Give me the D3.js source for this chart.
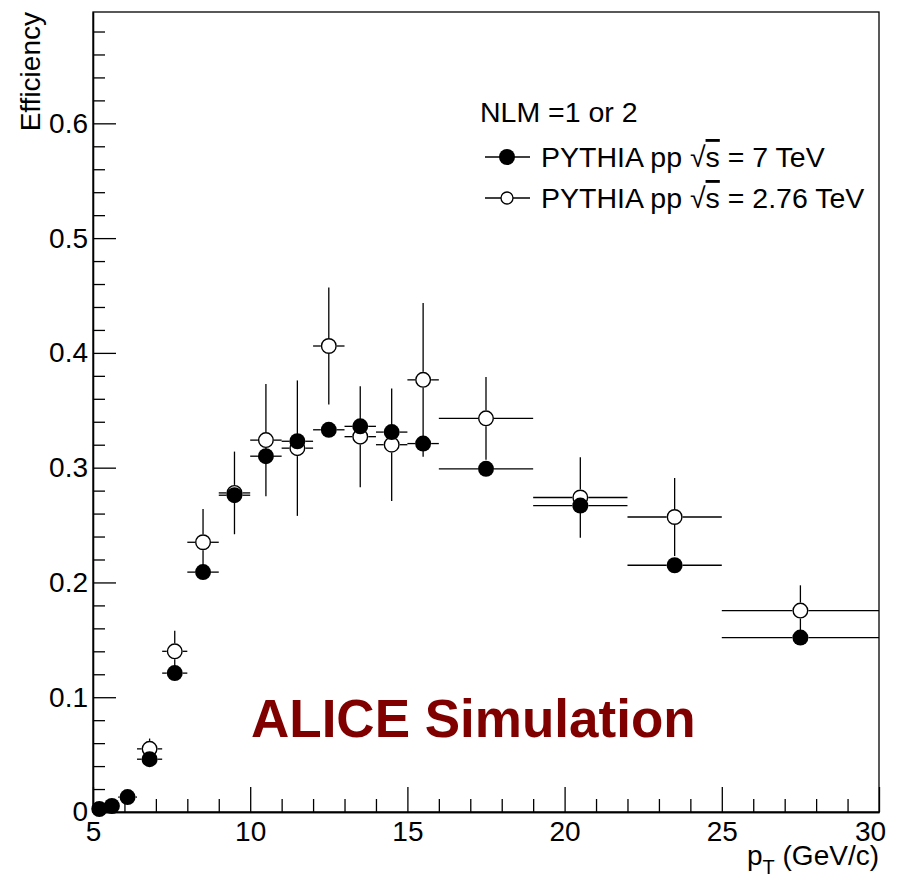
<!DOCTYPE html>
<html>
<head>
<meta charset="utf-8">
<script src="https://cdn.jsdelivr.net/npm/d3@7/dist/d3.min.js"></script>
<style>
  html, body { margin: 0; padding: 0; background: #fff; }
  svg { display: block; font-family: "Liberation Sans", Arial, Helvetica, sans-serif; }
</style>
</head>
<body>
<svg id="chart" width="898" height="881"></svg>
<script>
// pT bins: centres and half-widths (GeV/c)
const ptCentre7   = [5.2, 5.6, 6.1, 6.8, 7.6, 8.5, 9.5, 10.5, 11.5, 12.5, 13.5, 14.5, 15.5, 17.5, 20.5, 23.5, 27.5];
const ptHalf7     = [0.2, 0.2, 0.3, 0.4, 0.4, 0.5, 0.5, 0.5, 0.5, 0.5, 0.5, 0.5, 0.5, 1.5, 1.5, 1.5, 2.5];
const eff7        = [0.0026, 0.0052, 0.013, 0.046, 0.121, 0.209, 0.276, 0.310, 0.323, 0.333, 0.336, 0.331, 0.321, 0.299, 0.267, 0.215, 0.152];
const effErr7     = [0.001, 0.001, 0.002, 0.003, 0.004, 0.005, 0.005, 0.006, 0.006, 0.006, 0.006, 0.006, 0.006, 0.006, 0.006, 0.006, 0.005];

const ptCentre276 = [6.8, 7.6, 8.5, 9.5, 10.5, 11.5, 12.5, 13.5, 14.5, 15.5, 17.5, 20.5, 23.5, 27.5];
const ptHalf276   = [0.4, 0.4, 0.5, 0.5, 0.5, 0.5, 0.5, 0.5, 0.5, 0.5, 1.5, 1.5, 1.5, 2.5];
const eff276      = [0.055, 0.140, 0.235, 0.278, 0.324, 0.317, 0.406, 0.327, 0.320, 0.3765, 0.343, 0.274, 0.257, 0.1755];
const effErr276   = [0.009, 0.018, 0.029, 0.036, 0.049, 0.059, 0.051, 0.044, 0.049, 0.067, 0.036, 0.035, 0.034, 0.022];

const xMajorTicks = [5, 10, 15, 20, 25, 30];
const yMajorTicks = [0, 0.1, 0.2, 0.3, 0.4, 0.5, 0.6];

const legendTitle = "NLM =1 or 2";
const legendEnergies = ["7", "2.76"];

const svg = d3.select("#chart");
const padL = 93, padR = 879, padT = 12, padB = 812;

const x = d3.scaleLinear().domain([5, 30]).range([padL, padR]);
const y = d3.scaleLinear().domain([0, 0.697]).range([padB, padT]);

const ink = "#000";
const fontSize = 28;

// frame
svg.append("rect")
  .attr("x", padL).attr("y", padT)
  .attr("width", padR - padL).attr("height", padB - padT)
  .attr("fill", "none").attr("stroke", ink).attr("stroke-width", 1.3);

// x axis: major + minor ticks pointing into the frame
const xMinor = d3.range(5, 30.001, 1).filter(v => v % 5 !== 0);
const xAxis = svg.append("g").attr("transform", `translate(0,${padB})`)
  .call(d3.axisBottom(x).tickValues(xMajorTicks).tickSizeInner(-25).tickSizeOuter(0)
        .tickPadding(9).tickFormat(d3.format("d")));
xAxis.append("g").call(d3.axisBottom(x).tickValues(xMinor).tickSizeInner(-13).tickSizeOuter(0).tickFormat(""));
xAxis.selectAll(".domain").attr("stroke", ink).attr("stroke-width", 1.3);
xAxis.selectAll(".tick line").attr("stroke", ink).attr("stroke-width", 1.3);
xAxis.selectAll(".tick text").attr("font-size", fontSize).attr("fill", ink)
  .attr("font-family", "Liberation Sans, Arial, sans-serif")
  .attr("dx", d => d === 30 ? -9 : 0);

// y axis
const yMinor = d3.range(0, 0.69, 0.02).filter(v => Math.abs(v * 10 - Math.round(v * 10)) > 1e-6);
const yAxis = svg.append("g").attr("transform", `translate(${padL},0)`)
  .call(d3.axisLeft(y).tickValues(yMajorTicks).tickSizeInner(-23).tickSizeOuter(0)
        .tickPadding(5).tickFormat(d => d === 0 ? "0" : d3.format(".1f")(d)));
yAxis.append("g").call(d3.axisLeft(y).tickValues(yMinor).tickSizeInner(-12).tickSizeOuter(0).tickFormat(""));
yAxis.selectAll(".domain").attr("stroke", ink).attr("stroke-width", 1.3);
yAxis.selectAll(".tick line").attr("stroke", ink).attr("stroke-width", 1.3);
yAxis.selectAll(".tick text").attr("font-size", fontSize).attr("fill", ink)
  .attr("font-family", "Liberation Sans, Arial, sans-serif");

// axis titles
svg.append("text")
  .attr("transform", `translate(40,${padT}) rotate(-90)`)
  .attr("text-anchor", "end").attr("font-size", fontSize).attr("fill", ink)
  .text("Efficiency");

const xt = svg.append("text")
  .attr("x", padR).attr("y", 865)
  .attr("text-anchor", "end").attr("font-size", fontSize).attr("fill", ink);
xt.append("tspan").text("p");
xt.append("tspan").attr("font-size", 20).attr("dy", 9).text("T");
xt.append("tspan").attr("dy", -9).text(" (GeV/c)");

// data points with error bars that stop at the marker edge
const r = 8;
function drawSeries(centres, halves, vals, errs, filled) {
  const g = svg.append("g");
  const pts = centres.map((c, i) => ({ c, h: halves[i], v: vals[i], e: errs[i] }));
  pts.forEach(p => {
    const cx = x(p.c), cy = y(p.v);
    const segs = [
      [x(p.c - p.h), cy, cx - r, cy],
      [cx + r, cy, x(p.c + p.h), cy],
      [cx, y(p.v + p.e), cx, cy - r],
      [cx, cy + r, cx, y(p.v - p.e)]
    ];
    segs.forEach(s => {
      const fwd = (s[2] - s[0]) + (s[3] - s[1]);
      if (fwd > 0.5) {
        g.append("line")
          .attr("x1", s[0]).attr("y1", s[1]).attr("x2", s[2]).attr("y2", s[3])
          .attr("stroke", ink).attr("stroke-width", 1.3);
      }
    });
  });
  g.selectAll("circle").data(pts).join("circle")
    .attr("cx", d => x(d.c)).attr("cy", d => y(d.v))
    .attr("r", filled ? r : r - 0.7)
    .attr("fill", filled ? ink : "#fff")
    .attr("stroke", ink).attr("stroke-width", filled ? 0 : 1.4);
}
drawSeries(ptCentre276, ptHalf276, eff276, effErr276, false);
drawSeries(ptCentre7, ptHalf7, eff7, effErr7, true);

// legend
const legFont = 28.5;
svg.append("text").attr("x", 480).attr("y", 122)
  .attr("font-size", legFont).attr("fill", ink).text(legendTitle);
legendEnergies.forEach((en, i) => {
  const ly = 157 + i * 41;
  svg.append("line").attr("x1", 485).attr("x2", 530).attr("y1", ly).attr("y2", ly)
    .attr("stroke", ink).attr("stroke-width", 1.3);
  svg.append("circle").attr("cx", 507).attr("cy", ly)
    .attr("r", i === 0 ? 8 : 6)
    .attr("fill", i === 0 ? ink : "#fff").attr("stroke", ink).attr("stroke-width", i === 0 ? 0 : 1.3);
  const t = svg.append("text").attr("x", 541).attr("y", ly + 10)
    .attr("font-size", legFont).attr("fill", ink);
  t.append("tspan").text("PYTHIA pp ");
  t.append("tspan").text("\u221A");
  t.append("tspan").attr("text-decoration", "overline").text("s");
  t.append("tspan").text(` = ${en} TeV`);
});

// experiment label
svg.append("text").attr("x", 251).attr("y", 737)
  .attr("font-size", 53).attr("font-weight", "bold").attr("fill", "#800000")
  .text("ALICE Simulation");
</script>
</body>
</html>
